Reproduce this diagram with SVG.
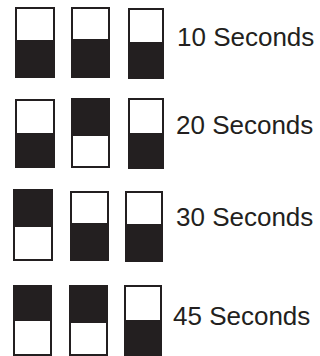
<svg xmlns="http://www.w3.org/2000/svg" width="320" height="356" viewBox="0 0 320 356">
<style>
.sw{fill:#231f20}
.w{fill:#ffffff}
.t{font-family:"Liberation Sans",Arial,sans-serif;font-size:26px;fill:#231f20}
</style>
<rect width="320" height="356" fill="#ffffff"/>
<g id="row1">
  <g id="r1s1"><rect class="sw" x="15" y="7" width="40" height="71"/><rect class="w" x="17" y="9" width="36" height="31"/></g>
  <g id="r1s2"><rect class="sw" x="71" y="7" width="39" height="71"/><rect class="w" x="73" y="9" width="35" height="30"/></g>
  <g id="r1s3"><rect class="sw" x="128" y="8" width="36" height="71"/><rect class="w" x="130" y="10" width="32" height="32"/></g>
  <text class="t" x="177" y="46">10 Seconds</text>
</g>
<g id="row2">
  <g id="r2s1"><rect class="sw" x="15" y="99" width="40" height="69"/><rect class="w" x="17" y="101" width="36" height="32"/></g>
  <g id="r2s2"><rect class="sw" x="71" y="98" width="39" height="70"/><rect class="w" x="73" y="136" width="35" height="30"/></g>
  <g id="r2s3"><rect class="sw" x="128" y="98" width="36" height="71"/><rect class="w" x="130" y="100" width="32" height="33"/></g>
  <text class="t" x="176" y="134">20 Seconds</text>
</g>
<g id="row3">
  <g id="r3s1"><rect class="sw" x="13" y="189" width="40" height="72"/><rect class="w" x="15" y="227" width="36" height="32"/></g>
  <g id="r3s2"><rect class="sw" x="70" y="191" width="39" height="70"/><rect class="w" x="72" y="193" width="35" height="30"/></g>
  <g id="r3s3"><rect class="sw" x="125" y="191" width="38" height="71"/><rect class="w" x="127" y="193" width="34" height="31"/></g>
  <text class="t" x="176" y="226">30 Seconds</text>
</g>
<g id="row4">
  <g id="r4s1"><rect class="sw" x="13" y="285" width="39" height="71"/><rect class="w" x="15" y="321" width="35" height="33"/></g>
  <g id="r4s2"><rect class="sw" x="69" y="285" width="39" height="71"/><rect class="w" x="71" y="323" width="35" height="31"/></g>
  <g id="r4s3"><rect class="sw" x="124" y="285" width="38" height="71"/><rect class="w" x="126" y="287" width="34" height="33"/></g>
  <text class="t" x="173" y="325">45 Seconds</text>
</g>
<g id="connectors"/>
</svg>
